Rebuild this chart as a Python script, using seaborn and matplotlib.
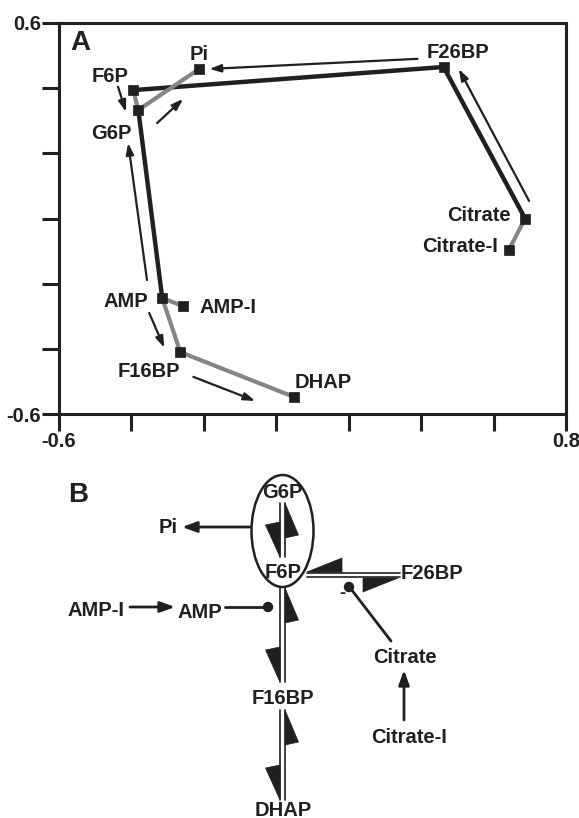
import numpy as np
import pandas as pd
import matplotlib
matplotlib.use("Agg")
import matplotlib.pyplot as plt
from matplotlib.patches import Ellipse, Polygon, Circle
import seaborn as sns

# ---------------- Panel A: metabolite scores ----------------
names = ["F6P", "G6P", "Pi", "F26BP", "Citrate", "Citrate-I", "AMP", "AMP-I", "F16BP", "DHAP"]
pc1 = [-0.395, -0.381, -0.213, 0.462, 0.687, 0.642, -0.315, -0.257, -0.265, 0.050]
pc2 = [0.394, 0.333, 0.459, 0.465, 0.000, -0.097, -0.244, -0.269, -0.410, -0.548]

# where each name is written
label_x = [-0.459, -0.456, -0.213, 0.501, 0.559, 0.507, -0.415, -0.132, -0.351, 0.130]
label_y = [0.437, 0.262, 0.502, 0.508, 0.008, -0.087, -0.256, -0.272, -0.471, -0.502]

black_edges = [("F6P", "F26BP"), ("F26BP", "Citrate"), ("G6P", "AMP")]
gray_edges = [("F6P", "G6P"), ("G6P", "Pi"), ("AMP", "AMP-I"), ("AMP", "F16BP"),
              ("F16BP", "DHAP"), ("Citrate", "Citrate-I")]

# thin direction arrows (start -> end)
arr_x0 = [0.390, -0.437, -0.329, -0.357, -0.351, -0.229, 0.698]
arr_y0 = [0.490, 0.404, 0.293, -0.189, -0.290, -0.486, 0.054]
arr_x1 = [-0.185, -0.415, -0.257, -0.409, -0.309, -0.058, 0.504]
arr_y1 = [0.459, 0.327, 0.367, 0.232, -0.397, -0.560, 0.459]

x_ticks = np.round(np.arange(-0.6, 0.81, 0.2), 1)
y_ticks = np.round(np.arange(-0.6, 0.61, 0.2), 1)

# ---------------- Panel B: pathway scheme (pixel-like units) ----------------
b_names = ["G6P", "F6P", "Pi", "AMP-I", "AMP", "F16BP", "DHAP", "F26BP", "Citrate", "Citrate-I"]
b_x = [282, 283, 168, 96, 200, 283, 283, 432, 405, 409]
b_y = [492, 572, 527, 610, 612, 698, 810, 573, 657, 737]

# reversible steps drawn as double lines
vert_steps = [(503, 557), (588, 682), (710, 800)]      # y start, y end
horiz_step = (307, 400)                                # x start, x end

sns.set_style("ticks")
plt.rcParams["font.family"] = ["Liberation Sans", "DejaVu Sans"]
plt.rcParams["font.weight"] = "bold"

ink = "#231f20"
fs = 14.5
fig = plt.figure(figsize=(5.79, 8.18), dpi=100)

# ---- panel A ----
ax = fig.add_axes([59 / 579, 1 - 414 / 818, 507 / 579, 391 / 818])
pts = pd.DataFrame({"name": names, "x": pc1, "y": pc2}).set_index("name")

for a, b in black_edges:
    seg = pts.loc[[a, b]]
    sns.lineplot(x=seg["x"].values, y=seg["y"].values, sort=False, estimator=None,
                 color=ink, lw=3.2, ax=ax, solid_capstyle="butt")
for a, b in gray_edges:
    seg = pts.loc[[a, b]]
    sns.lineplot(x=seg["x"].values, y=seg["y"].values, sort=False, estimator=None,
                 color="#858585", lw=3.0, ax=ax, solid_capstyle="butt")
sns.scatterplot(x=pc1, y=pc2, marker="s", s=42, color=ink, edgecolor=ink, ax=ax, zorder=5)

for n, lx, ly in zip(names, label_x, label_y):
    ax.text(lx, ly, n, fontsize=fs, fontweight="bold", ha="center", va="center", color=ink)

for x0, y0, x1, y1 in zip(arr_x0, arr_y0, arr_x1, arr_y1):
    ax.annotate("", xy=(x1, y1), xytext=(x0, y0),
                arrowprops=dict(arrowstyle="-|>,head_length=0.45,head_width=0.15", lw=1.6,
                                color=ink, mutation_scale=15, shrinkA=0, shrinkB=0))

ax.text(-0.542, 0.539, "A", fontsize=20, fontweight="bold", ha="center", va="center", color=ink)

ax.set_xlim(-0.6, 0.8)
ax.set_ylim(-0.6, 0.6)
ax.set_xticks(x_ticks)
ax.set_yticks(y_ticks)
ax.set_xticklabels([f"{v:g}" if v in (-0.6, 0.8) else "" for v in x_ticks])
ax.set_yticklabels([f"{v:g}" if v in (-0.6, 0.6) else "" for v in y_ticks])
ax.tick_params(axis="both", direction="out", length=12, width=2.2, color=ink,
               labelsize=fs, labelcolor=ink, pad=1, bottom=True, left=True,
               top=False, right=False)
for lab in ax.get_xticklabels() + ax.get_yticklabels():
    lab.set_fontweight("bold")
for sp in ax.spines.values():
    sp.set_visible(True)
    sp.set_linewidth(2.2)
    sp.set_color(ink)
ax.set_xlabel("")
ax.set_ylabel("")

# ---- panel B ----
bx = fig.add_axes([0, 0, 1, 378 / 818])
bx.set_xlim(0, 579)
bx.set_ylim(818, 440)
bx.axis("off")

for n, x, y in zip(b_names, b_x, b_y):
    bx.text(x, y, n, fontsize=fs, fontweight="bold", ha="center", va="center",
            color=ink, zorder=4)
bx.text(78, 495, "B", fontsize=20, fontweight="bold", ha="center", va="center", color=ink)

bx.add_patch(Ellipse((282.5, 531), 62, 112, fill=False, lw=1.8, ec=ink, zorder=3))

for y0, y1 in vert_steps:
    for xx in (280, 284.5):
        bx.plot([xx, xx], [y0, y1], color=ink, lw=1.2)
    # half arrowheads: up on the right, down on the left
    bx.add_patch(Polygon([(285, y0), (298.5, y0 + 32), (285, y0 + 35)], closed=True,
                         fc=ink, ec=ink, lw=0.5))
    bx.add_patch(Polygon([(280, y1), (265.5, y1 - 32), (280, y1 - 35)], closed=True,
                         fc=ink, ec=ink, lw=0.5))

hx0, hx1 = horiz_step
for yy in (572.5, 577):
    bx.plot([hx0, hx1], [yy, yy], color=ink, lw=1.2)
bx.add_patch(Polygon([(hx0, 572), (hx0 + 35, 558), (hx0 + 35, 572)], closed=True,
                     fc=ink, ec=ink, lw=0.5))
bx.add_patch(Polygon([(hx1 - 2, 578), (hx1 - 37, 592), (hx1 - 37, 578)], closed=True,
                     fc=ink, ec=ink, lw=0.5))

arrow_kw = dict(arrowstyle="-|>,head_length=0.55,head_width=0.2", lw=2.0, color=ink,
                mutation_scale=16, shrinkA=0, shrinkB=0)
bx.annotate("", xy=(182, 527), xytext=(250, 527), arrowprops=arrow_kw)
bx.annotate("", xy=(175, 607), xytext=(130, 607), arrowprops=arrow_kw)
bx.annotate("", xy=(404, 670), xytext=(404, 720), arrowprops=arrow_kw)

# inhibition by AMP and citrate
bx.plot([225, 266], [607, 607], color=ink, lw=2.0)
bx.add_patch(Circle((268, 607), 4.5, fc=ink, ec=ink))
bx.plot([391, 351], [641, 589], color=ink, lw=2.0)
bx.add_patch(Circle((349, 587), 4.5, fc=ink, ec=ink))
bx.text(342, 593, "-", fontsize=13, fontweight="bold", ha="center", va="center", color=ink)

fig.savefig("out.png", dpi=100)
